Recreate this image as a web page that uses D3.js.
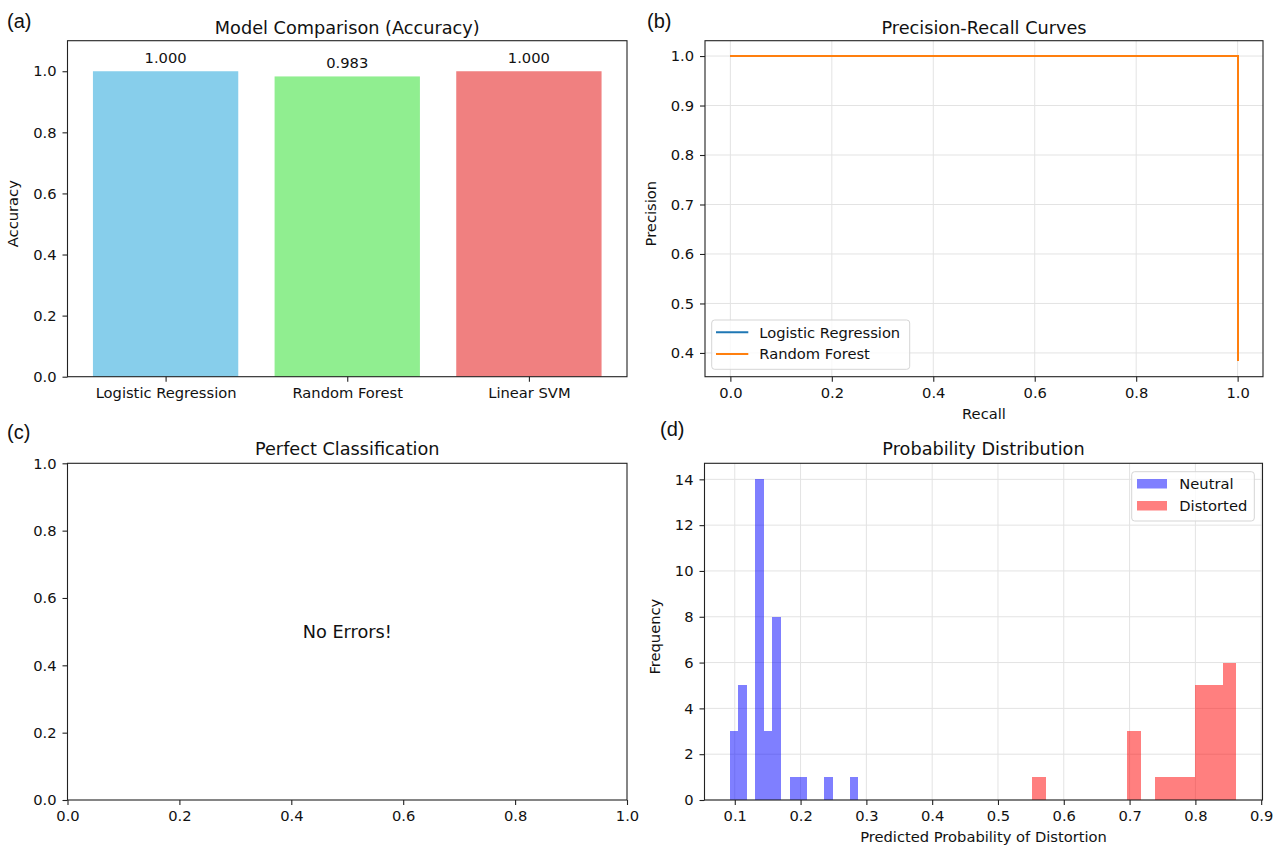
<!DOCTYPE html>
<html>
<head>
<meta charset="utf-8">
<script src="https://cdn.jsdelivr.net/npm/d3@7"></script>
<style>
  body { margin: 0; background: #fff; }
  text { font-family: "DejaVu Sans", sans-serif; fill: #111; }
  .tick text { font-size: 14.7px; }
  .tick line { stroke: #222; stroke-width: 1.1; }
  .grid line { stroke: #e3e3e3; stroke-width: 1; }
</style>
</head>
<body>
<svg id="fig" width="1280" height="846"></svg>
<script>
// ---- data ----
var models = ["Logistic Regression", "Random Forest", "Linear SVM"];
var accuracy = [1.000, 0.983, 1.000];
var barColors = ["#87ceeb", "#90ee90", "#f08080"];

var prSeries = ["Logistic Regression", "Random Forest"];
var recallPts = [0, 1, 1];
var lrPrecision = [1, 1, 0.383];
var rfPrecision = [1, 1, 0.383];
var prColors = ["#1f77b4", "#ff7f0e"];

var histLabels = ["Neutral", "Distorted"];
var neutralRange = [0.092, 0.288];
var neutralCounts = [3, 5, 0, 14, 3, 8, 0, 1, 1, 0, 0, 1, 0, 0, 1];
var distortedRange = [0.552, 0.862];
var distortedCounts = [1, 0, 0, 0, 0, 0, 0, 3, 0, 1, 1, 1, 5, 5, 6];

var accTicks = [0, 0.2, 0.4, 0.6, 0.8, 1.0];
var precTicks = [0.4, 0.5, 0.6, 0.7, 0.8, 0.9, 1.0];
var unitTicks = [0, 0.2, 0.4, 0.6, 0.8, 1.0];
var probTicks = [0.1, 0.2, 0.3, 0.4, 0.5, 0.6, 0.7, 0.8, 0.9];
var freqTicks = [0, 2, 4, 6, 8, 10, 12, 14];

var svg = d3.select("#fig");
var f1 = d3.format(".1f");
var FS = 14.7, TS = 17.7;

// panel boxes (pixel frames)
var boxA = {l: 67.5, r: 627, t: 40.7, b: 376.7};
var boxB = {l: 705, r: 1263, t: 40.7, b: 376.7};
var boxC = {l: 67.5, r: 627, t: 463.3, b: 800};
var boxD = {l: 704.5, r: 1262.5, t: 463.3, b: 800};

function txt(x, y, s, size, anchor, rot) {
  var t = svg.append("text")
    .attr("font-size", size)
    .attr("text-anchor", anchor || "middle")
    .text(s);
  if (rot) t.attr("transform", "translate(" + x + "," + y + ") rotate(-90)");
  else t.attr("x", x).attr("y", y);
  return t;
}

function panelLabel(x, y, s) {
  txt(x, y, s, 20, "start").style("font-family", "'Liberation Sans', Arial, sans-serif");
}

function axes(box, x, y, xt, yt, xfmt, yfmt) {
  svg.append("g")
    .attr("transform", "translate(0," + box.b + ")")
    .call(d3.axisBottom(x).tickValues(xt).tickFormat(xfmt).tickSize(5).tickPadding(6).tickSizeOuter(0))
    .call(g => g.select(".domain").remove());
  svg.append("g")
    .attr("transform", "translate(" + box.l + ",0)")
    .call(d3.axisLeft(y).tickValues(yt).tickFormat(yfmt).tickSize(5).tickPadding(6).tickSizeOuter(0))
    .call(g => g.select(".domain").remove());
}

function grid(box, x, y, xt, yt) {
  var g = svg.append("g").attr("class", "grid");
  g.selectAll(".gx").data(xt).enter().append("line")
    .attr("x1", d => x(d)).attr("x2", d => x(d))
    .attr("y1", box.t).attr("y2", box.b);
  g.selectAll(".gy").data(yt).enter().append("line")
    .attr("y1", d => y(d)).attr("y2", d => y(d))
    .attr("x1", box.l).attr("x2", box.r);
}

function frame(box) {
  svg.append("rect")
    .attr("x", box.l).attr("y", box.t)
    .attr("width", box.r - box.l).attr("height", box.b - box.t)
    .attr("fill", "none").attr("stroke", "#222").attr("stroke-width", 1.1);
}

// ---------- (a) accuracy bars ----------
var xA = d3.scaleLinear().domain([-0.54, 2.54]).range([boxA.l, boxA.r]);
var yA = d3.scaleLinear().domain([0, 1.1]).range([boxA.b, boxA.t]);

svg.append("g").selectAll("rect").data(accuracy).enter().append("rect")
  .attr("x", (d, i) => xA(i - 0.4))
  .attr("width", xA(0.4) - xA(-0.4))
  .attr("y", d => yA(d))
  .attr("height", d => yA(0) - yA(d))
  .attr("fill", (d, i) => barColors[i]);

svg.append("g").selectAll("text").data(accuracy).enter().append("text")
  .attr("x", (d, i) => xA(i)).attr("y", d => yA(d) - 8.5)
  .attr("text-anchor", "middle").attr("font-size", FS)
  .text(d => d.toFixed(3));

axes(boxA, xA, yA, [0, 1, 2], accTicks, i => models[i], f1);
frame(boxA);
txt((boxA.l + boxA.r) / 2, 33.5, "Model Comparison (Accuracy)", TS);
txt(18, (boxA.t + boxA.b) / 2 + 5, "Accuracy", FS, "middle", true);
panelLabel(7, 27.8, "(a)");

// ---------- (b) precision-recall ----------
var xB = d3.scaleLinear().domain([-0.05, 1.05]).range([boxB.l, boxB.r]);
var yB = d3.scaleLinear().domain([0.352, 1.031]).range([boxB.b, boxB.t]);
grid(boxB, xB, yB, unitTicks, precTicks);

var line = d3.line().x(d => xB(d[0])).y(d => yB(d[1]));
[lrPrecision, rfPrecision].forEach(function (prec, k) {
  var pts = recallPts.map((r, i) => [r, prec[i]]);
  svg.append("path").datum(pts)
    .attr("d", line).attr("fill", "none")
    .attr("shape-rendering", "crispEdges")
    .attr("stroke", prColors[k]).attr("stroke-width", 2);
});

axes(boxB, xB, yB, unitTicks, precTicks, f1, f1);
frame(boxB);
txt((boxB.l + boxB.r) / 2, 33.5, "Precision-Recall Curves", TS);
txt(656, (boxB.t + boxB.b) / 2 + 5, "Precision", FS, "middle", true);
txt((boxB.l + boxB.r) / 2, 419, "Recall", FS);
panelLabel(647, 27.8, "(b)");

// legend (b)
var legB = svg.append("g");
legB.append("rect").attr("x", 711.7).attr("y", 320).attr("width", 198).attr("height", 49.3)
  .attr("rx", 3).attr("fill", "#fff").attr("fill-opacity", 0.8).attr("stroke", "#d5d5d5");
prSeries.forEach(function (s, k) {
  var yy = 332.3 + k * 21.7;
  legB.append("line").attr("x1", 716).attr("x2", 748.3).attr("y1", yy).attr("y2", yy)
    .attr("stroke", prColors[k]).attr("stroke-width", 2.1);
  legB.append("text").attr("x", 759.3).attr("y", yy + 5.3).attr("font-size", FS).text(s);
});

// ---------- (c) empty confusion panel ----------
var xC = d3.scaleLinear().domain([0, 1]).range([boxC.l, boxC.r]);
var yC = d3.scaleLinear().domain([0, 1]).range([boxC.b, boxC.t]);
axes(boxC, xC, yC, unitTicks, unitTicks, f1, f1);
frame(boxC);
txt(xC(0.5), yC(0.5) + 6.5, "No Errors!", TS);
txt((boxC.l + boxC.r) / 2, 455, "Perfect Classification", TS);
panelLabel(7, 439, "(c)");

// ---------- (d) probability histogram ----------
var xD = d3.scaleLinear().domain([0.054, 0.902]).range([boxD.l, boxD.r]);
var yD = d3.scaleLinear().domain([0, 14.7]).range([boxD.b, boxD.t]);
grid(boxD, xD, yD, probTicks, freqTicks);

function histBars(counts, range, color) {
  var w = (range[1] - range[0]) / counts.length;
  svg.append("g").selectAll("rect").data(counts).enter().append("rect")
    .attr("x", (d, i) => xD(range[0] + i * w))
    .attr("width", xD(range[0] + w) - xD(range[0]))
    .attr("y", d => yD(d))
    .attr("height", d => yD(0) - yD(d))
    .attr("shape-rendering", "crispEdges")
    .attr("fill", color).attr("fill-opacity", 0.5);
}
histBars(neutralCounts, neutralRange, "blue");
histBars(distortedCounts, distortedRange, "red");

axes(boxD, xD, yD, probTicks, freqTicks, f1, d3.format("d"));
frame(boxD);
txt((boxD.l + boxD.r) / 2, 455, "Probability Distribution", TS);
txt(660, (boxD.t + boxD.b) / 2 + 5, "Frequency", FS, "middle", true);
txt((boxD.l + boxD.r) / 2, 842, "Predicted Probability of Distortion", FS);
panelLabel(660, 436, "(d)");

// legend (d)
var legD = svg.append("g");
legD.append("rect").attr("x", 1131.7).attr("y", 471.7).attr("width", 122.6).attr("height", 49.3)
  .attr("rx", 3).attr("fill", "#fff").attr("fill-opacity", 0.8).attr("stroke", "#d5d5d5");
["blue", "red"].forEach(function (c, k) {
  var yy = 479 + k * 22;
  legD.append("rect").attr("x", 1137).attr("y", yy).attr("width", 30).attr("height", 9.5)
    .attr("fill", c).attr("fill-opacity", 0.5);
  legD.append("text").attr("x", 1179.3).attr("y", yy + 10).attr("font-size", FS).text(histLabels[k]);
});
</script>
</body>
</html>
